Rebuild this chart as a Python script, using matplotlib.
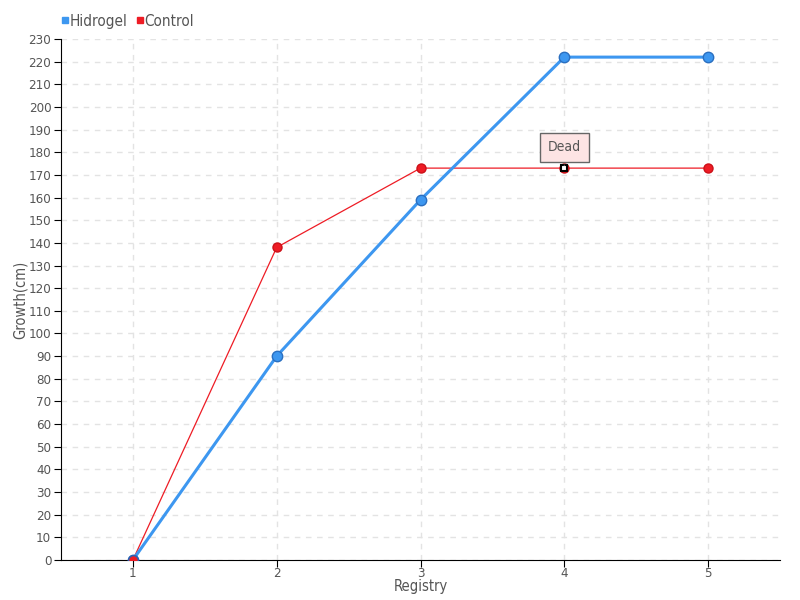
import matplotlib
matplotlib.use("Agg")
import matplotlib.pyplot as plt
from matplotlib.lines import Line2D

plt.rcParams['font.family'] = ['DejaVu Sans']
plt.rcParams['font.stretch'] = 'condensed'

categories = [1, 2, 3, 4, 5]
hidrogel = [0, 90, 159, 222, 222]
control = [0, 138, 173, 173, 173]
yticks = list(range(0, 231, 10))
dead_index = 3
dead_label = "Dead"

blue = '#3d97f0'
red = '#ee1c25'
txt = '#555555'

fig = plt.figure(figsize=(8, 6), dpi=100)
ax = fig.add_axes([61/800, 40/600, 719/800, 521/600])

ax.set_xlim(0.5, 5.5)
ax.set_ylim(0, 230)
ax.set_yticks(yticks)
ax.set_xticks(categories)
ax.grid(True, color='#e3e3e3', linestyle=(0, (4, 4)), linewidth=1)
ax.set_axisbelow(True)
for s in ['top', 'right']:
    ax.spines[s].set_visible(False)
ax.spines['left'].set_color('black')
ax.spines['bottom'].set_color('black')
ax.tick_params(axis='y', length=5, colors='black', labelcolor=txt, labelsize=9.5, pad=2)
ax.tick_params(axis='x', length=5, colors='black', labelcolor=txt, labelsize=9.5, pad=0)

ax.plot(categories, control, color=red, linewidth=0.9, marker='o', markersize=6.5,
        markerfacecolor=red, markeredgecolor='#cc1018', zorder=3)
ax.plot(categories, hidrogel, color=blue, linewidth=2.2, marker='o', markersize=7.5,
        markerfacecolor=blue, markeredgecolor='#2a6fc0', zorder=4)
ax.plot([categories[0]], [control[0]], marker='o', markersize=7, color=red,
        markeredgecolor='#3060b0', zorder=5)

ax.plot([categories[dead_index]], [control[dead_index]], marker='s', markersize=5,
        markerfacecolor='white', markeredgecolor='black', markeredgewidth=1.5, zorder=6)
ax.annotate(dead_label, xy=(categories[dead_index], control[dead_index]),
            xytext=(0, 15), textcoords='offset points', ha='center', va='center',
            fontsize=10, color=txt,
            bbox=dict(boxstyle='square,pad=0.55', facecolor='#fde4e4', edgecolor='#666666', linewidth=1),
            arrowprops=dict(arrowstyle='-', color='#666666', lw=1), zorder=7)

ax.set_xlabel('Registry', fontsize=10.5, color=txt, va='center')
ax.xaxis.set_label_coords(0.5, -(588 - 561) / 521)
ax.set_ylabel('Growth(cm)', fontsize=10.5, color=txt, va='center')
ax.yaxis.set_label_coords((20 - 61) / 719, 0.5)

handles = [Line2D([], [], marker='s', linestyle='none', color=blue, markersize=4.5),
           Line2D([], [], marker='s', linestyle='none', color=red, markersize=4.5)]
fig.legend(handles, ['Hidrogel', 'Control'], loc='upper left', bbox_to_anchor=(0.055, 1.0),
           ncol=2, frameon=False, fontsize=11, handletextpad=-0.2, columnspacing=0.3,
           labelcolor=txt, handlelength=1)

fig.savefig('out.png', dpi=100)
